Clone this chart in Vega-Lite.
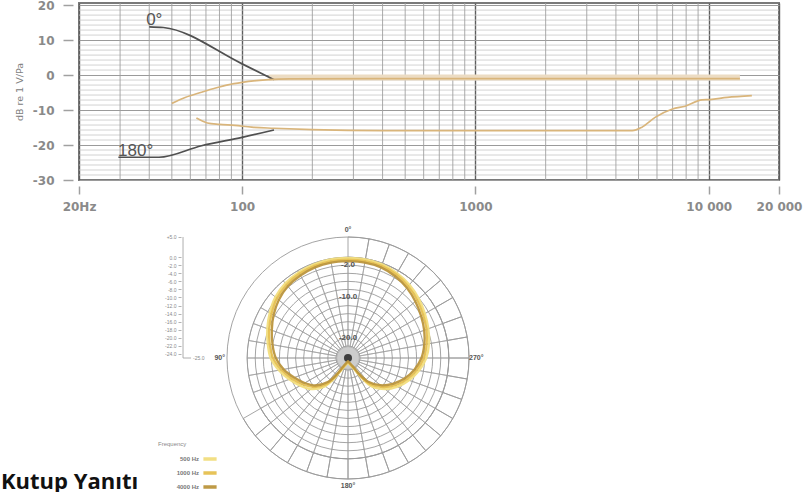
{
  "$schema": "https://vega.github.io/schema/vega-lite/v6.json",
  "padding": {"left": 0, "top": -2, "right": 0, "bottom": 0},
  "autosize": {"type": "pad"},
  "background": "white",
  "config": {"view": {"stroke": null}, "font": "Liberation Sans", "legend": {"labelFontSize": 6, "rowPadding": 0, "titleFontSize": 6}},
  "datasets": {
    "hminor": [{"db":-28.57},{"db":-27.14},{"db":-25.71},{"db":-24.29},{"db":-22.86},{"db":-21.43},{"db":-18.57},{"db":-17.14},{"db":-15.71},{"db":-14.29},{"db":-12.86},{"db":-11.43},{"db":-8.57},{"db":-7.14},{"db":-5.71},{"db":-4.29},{"db":-2.86},{"db":-1.43},{"db":1.43},{"db":2.86},{"db":4.29},{"db":5.71},{"db":7.14},{"db":8.57},{"db":11.43},{"db":12.86},{"db":14.29},{"db":15.71},{"db":17.14},{"db":18.57}],
    "vminor": [{"f":30},{"f":40},{"f":50},{"f":60},{"f":70},{"f":80},{"f":90},{"f":200},{"f":300},{"f":400},{"f":500},{"f":600},{"f":700},{"f":800},{"f":900},{"f":2000},{"f":3000},{"f":4000},{"f":5000},{"f":6000},{"f":7000},{"f":8000},{"f":9000}],
    "band": [{"series":"0° band","f":130,"db":-0.7},{"series":"0° band","f":13600,"db":-0.7}],
    "fr": [
      {"series":"0°","f":40,"db":13.8},{"series":"0°","f":46,"db":13.6},{"series":"0°","f":100,"db":3.2},{"series":"0°","f":137,"db":-1.3},
      {"series":"180°","f":29.5,"db":-23.5},{"series":"180°","f":44,"db":-23.5},{"series":"180°","f":67,"db":-20.2},{"series":"180°","f":100,"db":-17.8},{"series":"180°","f":137,"db":-15.7},
      {"series":"0° response","f":50,"db":-8.1},{"series":"0° response","f":57,"db":-6.4},{"series":"0° response","f":67,"db":-4.9},{"series":"0° response","f":77,"db":-3.7},{"series":"0° response","f":87,"db":-2.8},{"series":"0° response","f":100,"db":-2.1},{"series":"0° response","f":115,"db":-1.6},{"series":"0° response","f":130,"db":-1.3},{"series":"0° response","f":160,"db":-1.1},{"series":"0° response","f":400,"db":-1.0},{"series":"0° response","f":2000,"db":-1.0},{"series":"0° response","f":13600,"db":-1.0},
      {"series":"180° response","f":63.7,"db":-12.3},{"series":"180° response","f":71,"db":-13.7},{"series":"180° response","f":80,"db":-14.1},{"series":"180° response","f":93,"db":-14.4},{"series":"180° response","f":110,"db":-14.9},{"series":"180° response","f":137,"db":-15.2},{"series":"180° response","f":200,"db":-15.6},{"series":"180° response","f":400,"db":-15.9},{"series":"180° response","f":4700,"db":-15.9},{"series":"180° response","f":5170,"db":-14.9},{"series":"180° response","f":5890,"db":-12.1},{"series":"180° response","f":6990,"db":-9.7},{"series":"180° response","f":7930,"db":-8.9},{"series":"180° response","f":9350,"db":-7.1},{"series":"180° response","f":10100,"db":-7.0},{"series":"180° response","f":12000,"db":-6.4},{"series":"180° response","f":15300,"db":-5.9}
    ],
    "frlabels": [{"label":"0°","f":38.8,"db":14.3},{"label":"180°","f":29.4,"db":-23.1}],
    "spokes15": [{"angle":0},{"angle":15},{"angle":30},{"angle":45},{"angle":60},{"angle":75},{"angle":90},{"angle":105},{"angle":120},{"angle":135},{"angle":150},{"angle":165},{"angle":180},{"angle":195},{"angle":210},{"angle":225},{"angle":240},{"angle":255},{"angle":270},{"angle":285},{"angle":300},{"angle":315},{"angle":330},{"angle":345}],
    "spokes10": [{"angle":0},{"angle":10},{"angle":20},{"angle":30},{"angle":40},{"angle":50},{"angle":60},{"angle":70},{"angle":80},{"angle":90},{"angle":100},{"angle":110},{"angle":120},{"angle":130},{"angle":140},{"angle":150},{"angle":160},{"angle":170},{"angle":180},{"angle":190},{"angle":200},{"angle":210},{"angle":220},{"angle":230},{"angle":240},{"angle":250},{"angle":260},{"angle":270},{"angle":280},{"angle":290},{"angle":300},{"angle":310},{"angle":320},{"angle":330},{"angle":340},{"angle":350}],
    "rings": [{"db":-24},{"db":-22},{"db":-20},{"db":-18},{"db":-16},{"db":-14},{"db":-12},{"db":-10},{"db":-8},{"db":-6},{"db":-4},{"db":-2},{"db":0},{"db":5}],
    "center": [{"part":"halo","db":-22.2},{"part":"dot","db":-24}],
    "polar": [
      {"freq":"500 Hz","angle":0,"db":-0.2},{"freq":"500 Hz","angle":10,"db":-0.2},{"freq":"500 Hz","angle":20,"db":-0.3},{"freq":"500 Hz","angle":30,"db":-0.5},{"freq":"500 Hz","angle":40,"db":-0.8},{"freq":"500 Hz","angle":50,"db":-1.5},{"freq":"500 Hz","angle":60,"db":-2.6},{"freq":"500 Hz","angle":70,"db":-3.7},{"freq":"500 Hz","angle":80,"db":-4.8},{"freq":"500 Hz","angle":90,"db":-5.8},{"freq":"500 Hz","angle":100,"db":-7.6},{"freq":"500 Hz","angle":110,"db":-9.5},{"freq":"500 Hz","angle":120,"db":-11.3},{"freq":"500 Hz","angle":130,"db":-13.0},{"freq":"500 Hz","angle":140,"db":-15.6},{"freq":"500 Hz","angle":145,"db":-18.2},{"freq":"500 Hz","angle":150,"db":-21.2},{"freq":"500 Hz","angle":160,"db":-23.0},{"freq":"500 Hz","angle":170,"db":-23.6},{"freq":"500 Hz","angle":180,"db":-23.8},{"freq":"500 Hz","angle":190,"db":-23.6},{"freq":"500 Hz","angle":200,"db":-23.0},{"freq":"500 Hz","angle":210,"db":-21.4},{"freq":"500 Hz","angle":215,"db":-18.8},{"freq":"500 Hz","angle":220,"db":-15.8},{"freq":"500 Hz","angle":230,"db":-13.0},{"freq":"500 Hz","angle":240,"db":-10.8},{"freq":"500 Hz","angle":250,"db":-8.9},{"freq":"500 Hz","angle":260,"db":-7.1},{"freq":"500 Hz","angle":270,"db":-5.6},{"freq":"500 Hz","angle":280,"db":-4.6},{"freq":"500 Hz","angle":290,"db":-3.8},{"freq":"500 Hz","angle":300,"db":-3.0},{"freq":"500 Hz","angle":310,"db":-2.1},{"freq":"500 Hz","angle":320,"db":-1.3},{"freq":"500 Hz","angle":330,"db":-0.7},{"freq":"500 Hz","angle":340,"db":-0.3},{"freq":"500 Hz","angle":350,"db":-0.2},{"freq":"500 Hz","angle":360,"db":-0.2},
      {"freq":"1000 Hz","angle":0,"db":-0.6},{"freq":"1000 Hz","angle":10,"db":-0.6},{"freq":"1000 Hz","angle":20,"db":-0.7},{"freq":"1000 Hz","angle":30,"db":-0.9},{"freq":"1000 Hz","angle":40,"db":-1.3},{"freq":"1000 Hz","angle":50,"db":-2.0},{"freq":"1000 Hz","angle":60,"db":-3.1},{"freq":"1000 Hz","angle":70,"db":-4.2},{"freq":"1000 Hz","angle":80,"db":-5.3},{"freq":"1000 Hz","angle":90,"db":-6.4},{"freq":"1000 Hz","angle":100,"db":-8.2},{"freq":"1000 Hz","angle":110,"db":-10.1},{"freq":"1000 Hz","angle":120,"db":-12.0},{"freq":"1000 Hz","angle":130,"db":-13.8},{"freq":"1000 Hz","angle":140,"db":-16.4},{"freq":"1000 Hz","angle":145,"db":-19.0},{"freq":"1000 Hz","angle":150,"db":-21.8},{"freq":"1000 Hz","angle":160,"db":-23.3},{"freq":"1000 Hz","angle":170,"db":-23.8},{"freq":"1000 Hz","angle":180,"db":-24.0},{"freq":"1000 Hz","angle":190,"db":-23.8},{"freq":"1000 Hz","angle":200,"db":-23.3},{"freq":"1000 Hz","angle":210,"db":-22.0},{"freq":"1000 Hz","angle":215,"db":-19.5},{"freq":"1000 Hz","angle":220,"db":-16.6},{"freq":"1000 Hz","angle":230,"db":-13.8},{"freq":"1000 Hz","angle":240,"db":-11.5},{"freq":"1000 Hz","angle":250,"db":-9.5},{"freq":"1000 Hz","angle":260,"db":-7.7},{"freq":"1000 Hz","angle":270,"db":-6.2},{"freq":"1000 Hz","angle":280,"db":-5.2},{"freq":"1000 Hz","angle":290,"db":-4.3},{"freq":"1000 Hz","angle":300,"db":-3.5},{"freq":"1000 Hz","angle":310,"db":-2.6},{"freq":"1000 Hz","angle":320,"db":-1.8},{"freq":"1000 Hz","angle":330,"db":-1.1},{"freq":"1000 Hz","angle":340,"db":-0.7},{"freq":"1000 Hz","angle":350,"db":-0.6},{"freq":"1000 Hz","angle":360,"db":-0.6},
      {"freq":"4000 Hz","angle":0,"db":-1.0},{"freq":"4000 Hz","angle":10,"db":-1.0},{"freq":"4000 Hz","angle":20,"db":-1.1},{"freq":"4000 Hz","angle":30,"db":-1.4},{"freq":"4000 Hz","angle":40,"db":-1.8},{"freq":"4000 Hz","angle":50,"db":-2.6},{"freq":"4000 Hz","angle":60,"db":-3.7},{"freq":"4000 Hz","angle":70,"db":-4.9},{"freq":"4000 Hz","angle":80,"db":-6.0},{"freq":"4000 Hz","angle":90,"db":-7.1},{"freq":"4000 Hz","angle":100,"db":-8.8},{"freq":"4000 Hz","angle":110,"db":-10.8},{"freq":"4000 Hz","angle":120,"db":-12.6},{"freq":"4000 Hz","angle":130,"db":-14.4},{"freq":"4000 Hz","angle":140,"db":-17.2},{"freq":"4000 Hz","angle":145,"db":-19.8},{"freq":"4000 Hz","angle":150,"db":-22.4},{"freq":"4000 Hz","angle":160,"db":-23.6},{"freq":"4000 Hz","angle":170,"db":-24.0},{"freq":"4000 Hz","angle":180,"db":-24.2},{"freq":"4000 Hz","angle":190,"db":-24.0},{"freq":"4000 Hz","angle":200,"db":-23.6},{"freq":"4000 Hz","angle":210,"db":-22.6},{"freq":"4000 Hz","angle":215,"db":-20.2},{"freq":"4000 Hz","angle":220,"db":-17.4},{"freq":"4000 Hz","angle":230,"db":-14.5},{"freq":"4000 Hz","angle":240,"db":-12.2},{"freq":"4000 Hz","angle":250,"db":-10.1},{"freq":"4000 Hz","angle":260,"db":-8.3},{"freq":"4000 Hz","angle":270,"db":-6.8},{"freq":"4000 Hz","angle":280,"db":-5.8},{"freq":"4000 Hz","angle":290,"db":-4.9},{"freq":"4000 Hz","angle":300,"db":-4.1},{"freq":"4000 Hz","angle":310,"db":-3.2},{"freq":"4000 Hz","angle":320,"db":-2.3},{"freq":"4000 Hz","angle":330,"db":-1.6},{"freq":"4000 Hz","angle":340,"db":-1.1},{"freq":"4000 Hz","angle":350,"db":-1.0},{"freq":"4000 Hz","angle":360,"db":-1.0}
    ],
    "anglelabels": [{"angle":0,"label":"0°"},{"angle":90,"label":"90°"},{"angle":180,"label":"180°"},{"angle":270,"label":"270°"}],
    "ringlabels": [{"db":-2,"label":"-2.0"},{"db":-10,"label":"-10.0"},{"db":-20,"label":"-20.0"}],
    "scalefoot": [{"db":-25,"label":"-25.0"}],
    "caption": [{"label":"Kutup Yanıtı"}]
  },
  "bounds": "flush",
  "spacing": 48,
  "resolve": {"scale": {"color": "independent", "x": "independent", "y": "independent", "radius": "independent"}, "legend": {"color": "independent"}},
  "vconcat": [
    {
      "width": 700,
      "height": 177,
      "view": {"stroke": "#7a7a7a", "strokeWidth": 2},
      "layer": [
        {
          "data": {"name": "hminor"},
          "mark": {"type": "rule", "color": "#c6c6c6", "strokeWidth": 0.8},
          "encoding": {
            "y": {"field": "db", "type": "quantitative",
              "scale": {"domain": [-30, 20.6], "nice": false, "zero": false},
              "axis": {"values": [-30, -20, -10, 0, 10, 20], "tickCount": 50, "labelExpr": "toString(datum.value)", "title": "dB re 1 V/Pa", "grid": true, "gridColor": "#9a9a9a", "gridWidth": 1, "domain": false, "offset": 6, "tickSize": 10, "tickColor": "#a0a0a0", "tickWidth": 1.5, "labelPadding": 9, "labelOverlap": false, "labelFlush": false, "labelBound": false, "labelFont": "DejaVu Sans", "labelFontWeight": "bold", "labelFontSize": 12, "labelColor": "#8a8a8a", "titleFont": "DejaVu Sans", "titleFontWeight": "normal", "titleFontSize": 9.5, "titleColor": "#808080", "titlePadding": 8}}
          }
        },
        {
          "data": {"name": "vminor"},
          "mark": {"type": "rule", "color": "#a0a0a0", "strokeWidth": 0.9},
          "encoding": {
            "x": {"field": "f", "type": "quantitative",
              "scale": {"type": "log", "domain": [20, 20000], "nice": false},
              "axis": {"values": [20, 100, 1000, 10000, 20000], "tickCount": 50, "labelExpr": "datum.value == 20 ? '20Hz' : datum.value == 10000 ? '10 000' : datum.value == 20000 ? '20 000' : toString(datum.value)", "title": null, "grid": true, "gridColor": "#5e5e5e", "gridWidth": 1.4, "domain": false, "offset": 6, "tickSize": 8, "tickColor": "#a0a0a0", "tickWidth": 1.5, "labelPadding": 7, "labelFlush": false, "labelOverlap": false, "labelBound": false, "labelFont": "DejaVu Sans", "labelFontWeight": "bold", "labelFontSize": 12, "labelColor": "#8a8a8a"}}
          }
        },
        {
          "data": {"name": "band"},
          "mark": {"type": "line", "strokeWidth": 6, "color": "#ecdcc3"},
          "encoding": {
            "x": {"field": "f", "type": "quantitative", "scale": {"type": "log", "domain": [20, 20000], "nice": false}},
            "y": {"field": "db", "type": "quantitative", "scale": {"domain": [-30, 20.6], "nice": false, "zero": false}}
          }
        },
        {
          "data": {"name": "fr"},
          "mark": {"type": "line", "strokeWidth": 1.7, "interpolate": "monotone"},
          "encoding": {
            "x": {"field": "f", "type": "quantitative", "scale": {"type": "log", "domain": [20, 20000], "nice": false}},
            "y": {"field": "db", "type": "quantitative", "scale": {"domain": [-30, 20.6], "nice": false, "zero": false}},
            "color": {"field": "series", "type": "nominal", "scale": {"domain": ["0°", "180°", "0° response", "180° response"], "range": ["#505050", "#505050", "#d9b57b", "#d9b57b"]}, "legend": null}
          }
        },
        {
          "data": {"name": "frlabels"},
          "mark": {"type": "text", "align": "left", "baseline": "alphabetic", "fontSize": 17, "color": "#555555", "font": "Liberation Sans"},
          "encoding": {
            "x": {"field": "f", "type": "quantitative", "scale": {"type": "log", "domain": [20, 20000], "nice": false}},
            "y": {"field": "db", "type": "quantitative", "scale": {"domain": [-30, 20.6], "nice": false, "zero": false}},
            "text": {"field": "label"}
          }
        }
      ]
    },
    {
      "width": 538,
      "height": 260,
      "view": {"stroke": null},
      "layer": [
        {
          "data": {"name": "spokes15"},
          "mark": {"type": "arc", "radius": 121, "radius2": 100.8, "fill": "white", "fillOpacity": 0, "stroke": "#9c9c9c", "strokeWidth": 0.9},
          "encoding": {
            "theta": {"aggregate": "count", "type": "quantitative"},
            "detail": {"field": "angle", "type": "quantitative"}
          }
        },
        {
          "data": {"name": "spokes10"},
          "mark": {"type": "arc", "radius": 100.8, "radius2": 4, "fill": "white", "fillOpacity": 0, "stroke": "#a4a4a4", "strokeWidth": 0.8},
          "encoding": {
            "theta": {"aggregate": "count", "type": "quantitative"},
            "detail": {"field": "angle", "type": "quantitative"}
          }
        },
        {
          "data": {"name": "rings"},
          "transform": [{"calculate": "datum.db + 25", "as": "r"}],
          "mark": {"type": "arc", "theta": 0, "theta2": 6.2832, "fill": "white", "fillOpacity": 0, "stroke": "#9a9a9a", "strokeWidth": 0.9},
          "encoding": {
            "radius": {"field": "r", "type": "quantitative", "stack": null, "scale": {"type": "linear", "domain": [0, 30], "range": [0, 121], "zero": true}}
          }
        },
        {
          "data": {"name": "center"},
          "transform": [{"filter": "datum.part == 'halo'"}, {"calculate": "datum.db + 25", "as": "r"}],
          "mark": {"type": "arc", "theta": 0, "theta2": 6.2832, "fill": "#cdcdcd", "stroke": "#a8a8a8", "strokeWidth": 0.6},
          "encoding": {
            "radius": {"field": "r", "type": "quantitative", "stack": null, "scale": {"type": "linear", "domain": [0, 30], "range": [0, 121], "zero": true}}
          }
        },
        {
          "data": {"name": "center"},
          "transform": [{"filter": "datum.part == 'dot'"}, {"calculate": "datum.db + 25", "as": "r"}],
          "mark": {"type": "arc", "theta": 0, "theta2": 6.2832, "fill": "#3f3f3f", "stroke": null},
          "encoding": {
            "radius": {"field": "r", "type": "quantitative", "stack": null, "scale": {"type": "linear", "domain": [0, 30], "range": [0, 121], "zero": true}}
          }
        },
        {
          "data": {"name": "polar"},
          "transform": [
            {"calculate": "datum.db + 25", "as": "r"},
            {"calculate": "-datum.r * sin(datum.angle * PI / 180)", "as": "px"},
            {"calculate": "datum.r * cos(datum.angle * PI / 180)", "as": "py"}
          ],
          "mark": {"type": "line", "strokeWidth": 2.3, "interpolate": "catmull-rom", "opacity": 0.95},
          "encoding": {
            "x": {"field": "px", "type": "quantitative", "scale": {"domain": [-66.69, 66.69], "nice": false, "zero": false}, "axis": null},
            "y": {"field": "py", "type": "quantitative", "scale": {"domain": [-32.23, 32.23], "nice": false, "zero": false},
              "axis": {"values": [30, 25, 23, 21, 19, 17, 15, 13, 11, 9, 7, 5, 3, 1], "tickCount": 60, "labelExpr": "datum.value == 30 ? '+5.0' : replace(format(datum.value - 25, '.1f'), '−', '-')", "orient": "left", "offset": -102, "domain": false, "grid": false, "title": null, "tickSize": 3, "tickColor": "#a0a0a0", "tickWidth": 0.8, "labelFontSize": 5, "labelColor": "#8a8a8a", "labelPadding": 2, "labelOverlap": false, "labelFlush": false, "labelBound": false}},
            "color": {"field": "freq", "type": "nominal",
              "scale": {"domain": ["500 Hz", "1000 Hz", "4000 Hz"], "range": ["#f2de7e", "#e6c050", "#bb953d"]},
              "legend": {"title": "Frequency", "orient": "none", "legendX": 79, "legendY": 213, "titleFontSize": 6, "titleFontWeight": "normal", "titleColor": "#8a8a8a", "titlePadding": 8, "labelFontSize": 6, "labelFontWeight": "bold", "labelColor": "#777777", "symbolType": "M-3.3,0H3.3", "symbolStrokeWidth": 3.5, "symbolSize": 16, "symbolOffset": 48, "labelAlign": "right", "labelOffset": -15, "rowPadding": 0}},
            "order": {"field": "angle", "type": "quantitative"}
          }
        },
        {
          "data": {"name": "anglelabels"},
          "transform": [
            {"calculate": "-31.8 * sin(datum.angle * PI / 180)", "as": "px"},
            {"calculate": "31.8 * cos(datum.angle * PI / 180)", "as": "py"}
          ],
          "mark": {"type": "text", "align": "center", "baseline": "middle", "fontSize": 7, "fontWeight": "bold", "color": "#555555"},
          "encoding": {
            "x": {"field": "px", "type": "quantitative"},
            "y": {"field": "py", "type": "quantitative"},
            "text": {"field": "label"}
          }
        },
        {
          "data": {"name": "ringlabels"},
          "transform": [{"calculate": "datum.db + 25", "as": "py"}],
          "mark": {"type": "text", "align": "center", "baseline": "middle", "fontSize": 8, "fontWeight": "bold", "color": "#555555"},
          "encoding": {
            "x": {"datum": 0, "type": "quantitative"},
            "y": {"field": "py", "type": "quantitative"},
            "text": {"field": "label"}
          }
        },
        {
          "data": {"name": "scalefoot"},
          "mark": {"type": "rule", "color": "#9a9a9a", "strokeWidth": 0.8},
          "encoding": {
            "x": {"datum": -40.9, "type": "quantitative"},
            "y": {"datum": 30, "type": "quantitative"},
            "y2": {"datum": 0}
          }
        },
        {
          "data": {"name": "scalefoot"},
          "mark": {"type": "rule", "color": "#9a9a9a", "strokeWidth": 0.8},
          "encoding": {
            "x": {"datum": -40.9, "type": "quantitative"},
            "x2": {"datum": -38.9},
            "y": {"datum": 0, "type": "quantitative"}
          }
        },
        {
          "data": {"name": "scalefoot"},
          "mark": {"type": "text", "align": "left", "baseline": "middle", "fontSize": 5, "color": "#8a8a8a"},
          "encoding": {
            "x": {"datum": -38.4, "type": "quantitative"},
            "y": {"datum": 0, "type": "quantitative"},
            "text": {"field": "label"}
          }
        },
        {
          "data": {"name": "caption"},
          "mark": {"type": "text", "align": "left", "baseline": "alphabetic", "fontSize": 22, "fontWeight": "bold", "font": "Open Sans", "color": "#111111"},
          "encoding": {
            "x": {"datum": -86.03, "type": "quantitative"},
            "y": {"datum": -32.5, "type": "quantitative"},
            "text": {"field": "label"}
          }
        }
      ]
    }
  ]
}
